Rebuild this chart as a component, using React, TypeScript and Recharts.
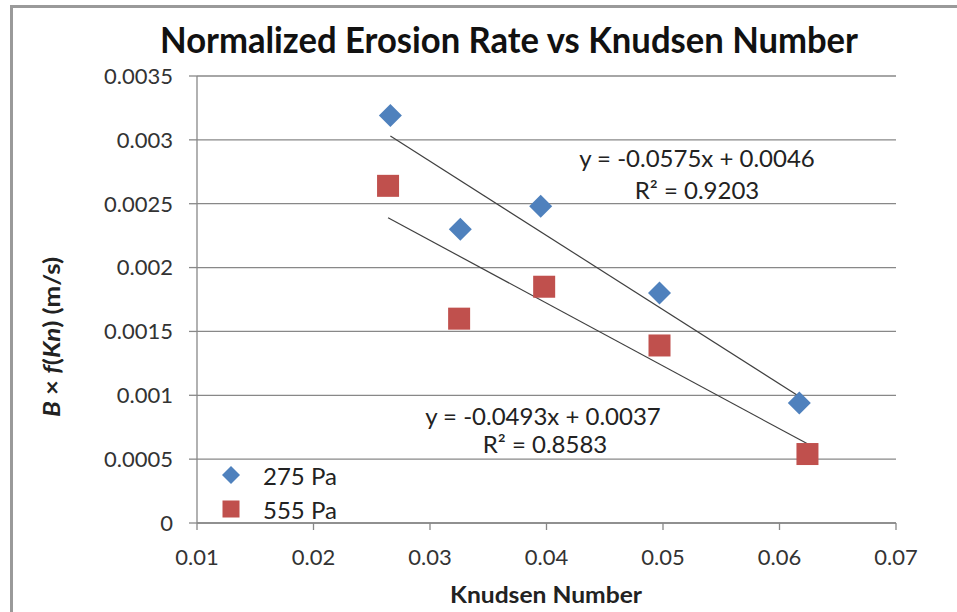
import React from "react"
import { ScatterChart, Scatter, XAxis, YAxis, CartesianGrid, Legend } from "recharts"

// measured points
const knudsen275 = [0.0266, 0.0326, 0.0395, 0.0497, 0.0617]
const rate275 = [0.00319, 0.0023, 0.00248, 0.0018, 0.00094]
const knudsen555 = [0.0264, 0.0325, 0.0398, 0.0497, 0.0624]
const rate555 = [0.00264, 0.0016, 0.00185, 0.00139, 0.00054]

// linear trendline end points
const trendX275 = [0.0266, 0.0617]
const trendY275 = [0.00303, 0.00099]
const trendX555 = [0.0264, 0.0624]
const trendY555 = [0.00239, 0.00062]

const xTicks = [0.01, 0.02, 0.03, 0.04, 0.05, 0.06, 0.07]
const yTicks = [0, 0.0005, 0.001, 0.0015, 0.002, 0.0025, 0.003, 0.0035]

const seriesNames = ["275 Pa", "555 Pa"]
const eq275 = ["y = -0.0575x + 0.0046", "R² = 0.9203"]
const eq555 = ["y = -0.0493x + 0.0037", "R² = 0.8583"]

const BLUE = "#4F81BD"
const RED = "#C0504D"
const GRID = "#888888"
const FONT = "Lato, 'Open Sans', sans-serif"

const toPoints = (xs: number[], ys: number[]) => xs.map((x, i) => ({ x, y: ys[i] }))

const Diamond = (props: any) => {
  const { cx, cy } = props
  const r = 11.5
  return <polygon points={`${cx},${cy - r} ${cx + r},${cy} ${cx},${cy + r} ${cx - r},${cy}`} fill={BLUE} />
}

const Square = (props: any) => {
  const { cx, cy } = props
  const s = 22
  return <rect x={cx - s / 2} y={cy - s / 2} width={s} height={s} fill={RED} />
}

const NoDot = () => <g />

const LegendBox = () => (
  <div style={{ fontFamily: FONT, fontSize: 24, color: "#222" }}>
    <div style={{ display: "flex", alignItems: "center", height: 34 }}>
      <svg width={48} height={24}>
        <polygon points="16,3 25,12 16,21 7,12" fill={BLUE} />
      </svg>
      <span>{seriesNames[0]}</span>
    </div>
    <div style={{ display: "flex", alignItems: "center", height: 34 }}>
      <svg width={48} height={24}>
        <rect x={7.5} y={3.5} width={17} height={17} fill={RED} />
      </svg>
      <span>{seriesNames[1]}</span>
    </div>
  </div>
)

export default function App() {
  return (
    <div style={{ position: "fixed", left: 0, top: 0, width: 957, height: 612, overflow: "hidden", background: "#fff" }}>
      <div
        style={{
          position: "absolute",
          left: 10,
          top: 5,
          width: 1000,
          height: 700,
          borderLeft: "3px solid #9a9a9a",
          borderTop: "3px solid #9a9a9a",
        }}
      />
      <div style={{ position: "absolute", left: 0, top: 0 }}>
        <ScatterChart width={957} height={612} margin={{ top: 76, right: 61, bottom: 49, left: 97 }}>
          <CartesianGrid vertical={false} stroke={GRID} strokeWidth={1.3} />
          <XAxis
            type="number"
            dataKey="x"
            domain={[0.01, 0.07]}
            ticks={xTicks}
            height={40}
            stroke={GRID}
            strokeWidth={1.3}
            tickSize={7}
            tickMargin={19}
            tick={{ fill: "#333", fontSize: 22, fontFamily: FONT }}
          />
          <YAxis
            type="number"
            dataKey="y"
            domain={[0, 0.0035]}
            ticks={yTicks}
            width={100}
            stroke={GRID}
            strokeWidth={1.3}
            tickSize={8}
            tickMargin={16}
            tick={{ fill: "#333", fontSize: 22, fontFamily: FONT }}
          />
          <Legend
            layout="horizontal"
            align="center"
            verticalAlign="middle"
            wrapperStyle={{ left: 215, top: 458, width: 170, height: 70 }}
            content={() => <LegendBox />}
          />
          <Scatter
            name="trend275"
            data={toPoints(trendX275, trendY275)}
            line={{ stroke: "#404040", strokeWidth: 1.2 }}
            shape={NoDot}
            legendType="none"
            isAnimationActive={false}
          />
          <Scatter
            name="trend555"
            data={toPoints(trendX555, trendY555)}
            line={{ stroke: "#404040", strokeWidth: 1.2 }}
            shape={NoDot}
            legendType="none"
            isAnimationActive={false}
          />
          <Scatter name={seriesNames[0]} data={toPoints(knudsen275, rate275)} fill={BLUE} shape={Diamond} isAnimationActive={false} />
          <Scatter name={seriesNames[1]} data={toPoints(knudsen555, rate555)} fill={RED} shape={Square} isAnimationActive={false} />
        </ScatterChart>
      </div>
      <svg width={957} height={612} style={{ position: "absolute", left: 0, top: 0, pointerEvents: "none" }}>
        <text
          x={509}
          y={53}
          textAnchor="middle"
          fontFamily={FONT}
          fontWeight="bold"
          fontSize={37}
          fill="#111"
          textLength={698}
          lengthAdjust="spacingAndGlyphs"
        >
          Normalized Erosion Rate vs Knudsen Number
        </text>
        <text
          x={546}
          y={603}
          textAnchor="middle"
          fontFamily={FONT}
          fontWeight="bold"
          fontSize={23}
          fill="#222"
          textLength={192}
          lengthAdjust="spacingAndGlyphs"
        >
          Knudsen Number
        </text>
        <text
          transform="translate(60,337) rotate(-90)"
          textAnchor="middle"
          fontFamily={FONT}
          fontWeight="bold"
          fontSize={23}
          fill="#222"
          textLength={160}
          lengthAdjust="spacingAndGlyphs"
        >
          <tspan fontStyle="italic">B</tspan>
          <tspan> × </tspan>
          <tspan fontStyle="italic">f</tspan>
          <tspan>(</tspan>
          <tspan fontStyle="italic">Kn</tspan>
          <tspan>) (m/s)</tspan>
        </text>
        <g fontFamily={FONT} fontSize={24} fill="#222" textAnchor="middle">
          <text x={697} y={167}>{eq275[0]}</text>
          <text x={697} y={199}>{eq275[1]}</text>
          <text x={543} y={425}>{eq555[0]}</text>
          <text x={545} y={453}>{eq555[1]}</text>
        </g>
      </svg>
    </div>
  )
}
